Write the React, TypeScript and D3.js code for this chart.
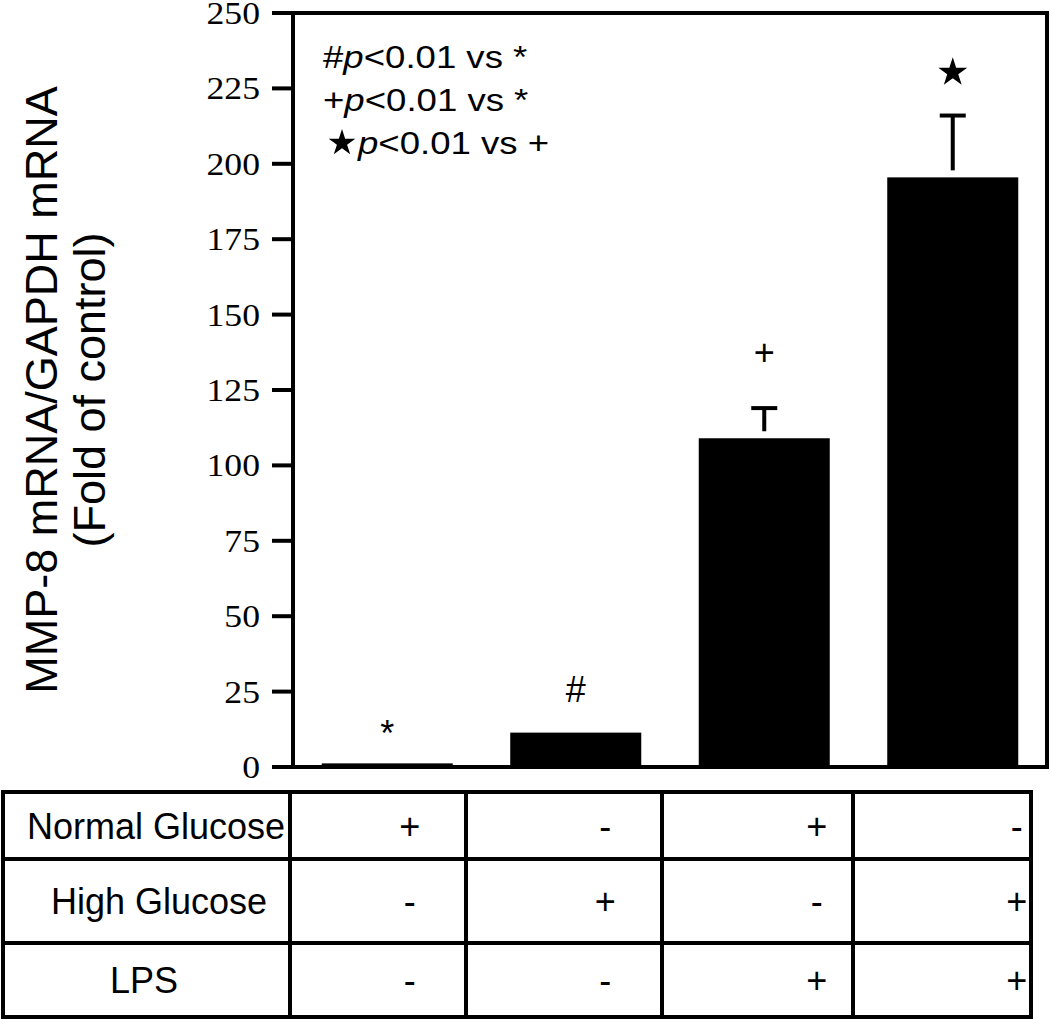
import * as d3 from "d3"

// groups shown in the table below the bars
const groups = ["NG", "HG", "NG+LPS", "HG+LPS"]
const means = [1.2, 11.4, 109, 195.5]
const errors = [0, 0, 10, 20.5]
const marks = ["*", "#", "+", "star"]
const yTicks = [0, 25, 50, 75, 100, 125, 150, 175, 200, 225, 250]

const rowLabels = ["Normal Glucose", "High Glucose", "LPS"]
const normalGlucose = ["+", "-", "+", "-"]
const highGlucose = ["-", "+", "-", "+"]
const lps = ["-", "-", "+", "+"]

const legendSymbols = ["#", "+", "star"]
const legendRefs = ["*", "*", "+"]

const W = 1050
const H = 1019
const plot = { left: 293, right: 1047, top: 13, bottom: 767 }
const table = { left: 3, right: 1031, top: 792, bottom: 1017 }
const colEdges = [table.left, 290, 466, 662, 853, table.right]
const rowEdges = [table.top, 859, 943, table.bottom]
// where the +/- sits inside each column, as a share of the cell width
const signPos = [0.68, 0.71, 0.81, 0.92]
const labelCenter = [156, 159, 144]
// gap between the top of a bar (or its error cap) and its mark
const markGap = [17, 31, 43, 43]

const SANS = "Arial, 'Liberation Sans', Helvetica, sans-serif"
const SERIF = "'Times New Roman', 'Liberation Serif', Times, serif"

export default function App() {
  const y = d3.scaleLinear().domain([0, 250]).range([plot.bottom, plot.top])
  const x = d3
    .scaleBand<string>()
    .domain(groups)
    .range([plot.left, plot.right])
    .paddingInner(0.305)
    .paddingOuter(0.1525)

  const star = (r: number) => d3.symbol(d3.symbolStar, (r * r) / 0.8908130915292852)()
  const rows = [normalGlucose, highGlucose, lps]

  return (
    <svg
      width={W}
      height={H}
      viewBox={`0 0 ${W} ${H}`}
      style={{ position: "absolute", left: 0, top: 0, background: "#fff" }}
    >
      {/* bars */}
      {groups.map((g, i) => (
        <rect
          key={g}
          x={x(g)}
          y={y(means[i])}
          width={x.bandwidth()}
          height={y(0) - y(means[i])}
          fill="#000"
        />
      ))}

      {/* error bars, drawn upward only, with a small gap above the bar */}
      {groups.map((g, i) => {
        if (!errors[i]) return null
        const cx = (x(g) as number) + x.bandwidth() / 2
        const top = y(means[i] + errors[i])
        return (
          <g key={g} stroke="#000" strokeWidth={4} fill="none">
            <line x1={cx} x2={cx} y1={y(means[i]) - 7} y2={top} />
            <line x1={cx - 13} x2={cx + 13} y1={top} y2={top} />
          </g>
        )
      })}

      {/* significance marks */}
      {groups.map((g, i) => {
        const cx = (x(g) as number) + x.bandwidth() / 2
        const top = y(means[i] + errors[i]) - markGap[i]
        if (marks[i] === "star") {
          return <path key={g} d={star(15.2) as string} transform={`translate(${cx},${top})`} fill="#000" />
        }
        return (
          <text key={g} x={cx} y={top} textAnchor="middle" fontFamily={SANS} fontSize={36} fill="#000">
            {marks[i]}
          </text>
        )
      })}

      {/* frame and y axis */}
      <g stroke="#000" strokeWidth={4} fill="none">
        <line x1={plot.left} x2={plot.left} y1={plot.top - 2} y2={plot.bottom + 2} />
        <line x1={plot.left} x2={plot.right} y1={plot.top} y2={plot.top} />
        <line x1={plot.right} x2={plot.right} y1={plot.top - 2} y2={plot.bottom + 2} />
        <line x1={plot.left} x2={plot.right} y1={plot.bottom} y2={plot.bottom} />
        {yTicks.map((t) => (
          <line key={t} x1={plot.left - 21} x2={plot.left} y1={y(t)} y2={y(t)} />
        ))}
      </g>
      {yTicks.map((t) => (
        <text
          key={t}
          transform={`translate(260,${y(t) + 11}) scale(1.15,1)`}
          textAnchor="end"
          fontFamily={SERIF}
          fontSize={31}
          fill="#000"
        >
          {t}
        </text>
      ))}

      {/* y axis title */}
      <g fontFamily={SANS} fontSize={45} fill="#000" textAnchor="middle">
        <text transform={`translate(57,390) rotate(-90)`}>MMP-8 mRNA/GAPDH mRNA</text>
        <text transform={`translate(105,390) rotate(-90)`}>(Fold of control)</text>
      </g>

      {/* legend */}
      {legendSymbols.map((s, i) => {
        const base = 68 + i * 43
        if (s === "star") {
          return (
            <g key={i}>
              <path d={star(14) as string} transform={`translate(342,${base - 11})`} fill="#000" />
              <text
                transform={`translate(358,${base}) scale(1.18,1)`}
                fontFamily={SANS}
                fontSize={31}
                fill="#000"
              >
                <tspan fontStyle="italic">p</tspan>
                <tspan>{`<0.01 vs ${legendRefs[i]}`}</tspan>
              </text>
            </g>
          )
        }
        return (
          <text
            key={i}
            transform={`translate(323,${base}) scale(1.18,1)`}
            fontFamily={SANS}
            fontSize={31}
            fill="#000"
          >
            <tspan>{s}</tspan>
            <tspan fontStyle="italic">p</tspan>
            <tspan>{`<0.01 vs ${legendRefs[i]}`}</tspan>
          </text>
        )
      })}

      {/* treatment table */}
      <g stroke="#000" strokeWidth={4} fill="none">
        <rect
          x={table.left}
          y={table.top}
          width={table.right - table.left}
          height={table.bottom - table.top}
        />
        {colEdges.slice(1, -1).map((c) => (
          <line key={c} x1={c} x2={c} y1={table.top} y2={table.bottom} />
        ))}
        {rowEdges.slice(1, -1).map((r) => (
          <line key={r} x1={table.left} x2={table.right} y1={r} y2={r} />
        ))}
      </g>
      <g fontFamily={SANS} fontSize={36} fill="#000">
        {rowLabels.map((lab, r) => {
          const cy = (rowEdges[r] + rowEdges[r + 1]) / 2 + 13
          return (
            <g key={lab}>
              <text x={labelCenter[r]} y={cy} textAnchor="middle">
                {lab}
              </text>
              {rows[r].map((v, c) => (
                <text
                  key={c}
                  x={colEdges[c + 1] + (colEdges[c + 2] - colEdges[c + 1]) * signPos[c]}
                  y={cy}
                  textAnchor="middle"
                >
                  {v}
                </text>
              ))}
            </g>
          )
        })}
      </g>
    </svg>
  )
}
